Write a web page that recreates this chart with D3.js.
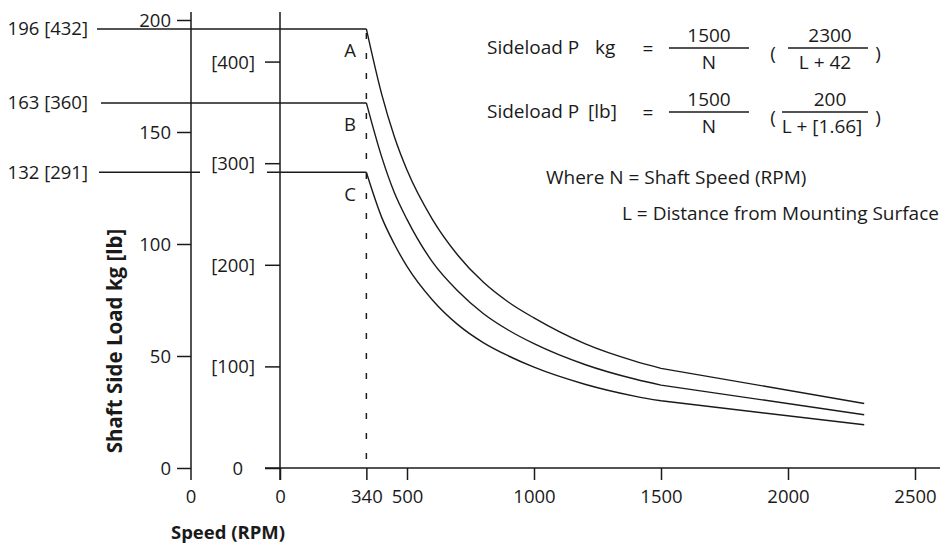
<!DOCTYPE html>
<html lang="en">
  <head>
    <meta charset="utf-8">
    <title>Shaft side load vs speed</title>
    <script type="text/javascript" src="https://cdn.jsdelivr.net/npm/d3@7"></script>
    <style>
    body {
      margin: 0;
      background: #ffffff;
    }
    #chart text {
      font-family: "Open Sans", "Noto Sans", sans-serif;
      font-size: 18.5px;
      fill: #1a1a1a;
    }
    #chart .formula {
      font-size: 19px;
    }
    #chart .title {
      font-weight: bold;
    }
    #chart .y-title {
      font-size: 20.5px;
    }
    .axis line, .axis path, .rule {
      stroke: #1a1a1a;
      stroke-width: 1.5;
    }
    .load-curve {
      fill: none;
      stroke: #1a1a1a;
      stroke-width: 1.4;
    }
    </style>
  </head>
  <body>
    <div id="chart"></div>

    <script type="text/javascript">

      // ---- data ----
      var speedTicks = [0, 340, 500, 1000, 1500, 2000, 2500];
      var kgTicks = [0, 50, 100, 150, 200];
      var lbTicks = [0, 100, 200, 300, 400];

      var curveNames = ['A', 'B', 'C'];
      var ratedKg = [196, 163, 132];
      var ratedLb = [432, 360, 291];

      // speed points along the curves (rpm); beyond 1500 the curves run straight to 2300
      var rpm = [340, 400, 450, 500, 600, 700, 800, 900, 1000, 1200, 1400, 1500];
      var loadA = [196, 167, 148, 133, 111, 95, 83, 74, 67, 55.5, 47.6, 44.5];
      var loadB = [163, 139, 123, 111, 92, 79, 69, 61.5, 55.5, 46.2, 39.6, 37];
      var loadC = [132, 112, 100, 90, 75, 64, 56, 50, 45, 37.4, 32, 30];
      var endRpm = 2300;
      var endLoad = [28.8, 23.8, 19.3];

      var kgPerLb = 0.45359;

      var dims = { w: 940, h: 546 };

      var svg = d3.select('#chart')
        .append('svg')
          .attr('width', dims.w)
          .attr('height', dims.h);

      // scales
      var x = d3.scaleLinear().domain([0, 2500]).range([280, 915]);
      var y = d3.scaleLinear().domain([0, 200]).range([468, 20]);
      var yLb = d3.scaleLinear().domain([0, 200 / kgPerLb]).range([468, 20]);

      var kgAxisX = 191;

      // kg axis (outer)
      var kgAxis = d3.axisLeft(y)
        .tickValues(kgTicks)
        .tickSize(14)
        .tickPadding(6);
      var gKg = svg.append('g')
        .attr('class', 'axis')
        .attr('transform', 'translate(' + kgAxisX + ',0)')
        .call(kgAxis);
      gKg.select('.domain').remove();
      gKg.selectAll('text').attr('dy', '0.35em');
      svg.append('line')
        .attr('class', 'rule')
        .attr('x1', kgAxisX).attr('x2', kgAxisX)
        .attr('y1', 12).attr('y2', y(0) + 12);

      // lb axis (inner)
      var lbAxis = d3.axisLeft(yLb)
        .tickValues(lbTicks)
        .tickSize(15)
        .tickPadding(10)
        .tickFormat(function(d) { return d === 0 ? '0' : '[' + d + ']'; });
      var gLb = svg.append('g')
        .attr('class', 'axis')
        .attr('transform', 'translate(' + x(0) + ',0)')
        .call(lbAxis);
      gLb.select('.domain').remove();
      gLb.selectAll('text')
        .attr('dy', '0.35em')
        .attr('x', function(d) { return d === 0 ? -37 : -25; });
      svg.append('line')
        .attr('class', 'rule')
        .attr('x1', x(0)).attr('x2', x(0))
        .attr('y1', 12).attr('y2', y(0) + 12);

      // speed axis
      var xAxis = d3.axisBottom(x)
        .tickValues(speedTicks)
        .tickSize(12)
        .tickPadding(10)
        .tickFormat(d3.format('d'));
      var gX = svg.append('g')
        .attr('class', 'axis')
        .attr('transform', 'translate(0,' + y(0) + ')')
        .call(xAxis);
      gX.select('.domain').remove();
      svg.append('line')
        .attr('class', 'rule')
        .attr('x1', x(0) - 15).attr('x2', dims.w)
        .attr('y1', y(0)).attr('y2', y(0));

      // zero under the kg axis
      svg.append('text')
        .attr('x', kgAxisX)
        .attr('y', y(0) + 22)
        .attr('dy', '0.71em')
        .attr('text-anchor', 'middle')
        .text('0');

      // dashed line at 340 rpm
      svg.append('line')
        .attr('class', 'rule')
        .attr('x1', x(340)).attr('x2', x(340))
        .attr('y1', y(ratedKg[0])).attr('y2', y(0))
        .attr('stroke-width', 1.3)
        .attr('stroke-dasharray', '6,14')
        .attr('stroke-dashoffset', -4);

      // rated load lines and labels
      var lineStart = [97, 101, 99];
      ratedKg.forEach(function(v, i) {
        if (i === 2) {
          // gap left open for the [300] label
          svg.append('line').attr('class', 'rule')
            .attr('x1', lineStart[i]).attr('x2', 200)
            .attr('y1', y(v)).attr('y2', y(v));
          svg.append('line').attr('class', 'rule')
            .attr('x1', 267).attr('x2', x(340))
            .attr('y1', y(v)).attr('y2', y(v));
        } else {
          svg.append('line').attr('class', 'rule')
            .attr('x1', lineStart[i]).attr('x2', x(340))
            .attr('y1', y(v)).attr('y2', y(v));
        }
        svg.append('text')
          .attr('x', 88)
          .attr('y', y(v))
          .attr('dy', '0.35em')
          .attr('text-anchor', 'end')
          .text(v + ' [' + ratedLb[i] + ']');
        svg.append('text')
          .attr('x', 350)
          .attr('y', y(v) + 22)
          .attr('dy', '0.35em')
          .attr('text-anchor', 'middle')
          .text(curveNames[i]);
      });

      // load curves
      var line = d3.line()
        .x(function(d) { return x(d[0]); })
        .y(function(d) { return y(d[1]); })
        .curve(d3.curveMonotoneX);

      [loadA, loadB, loadC].forEach(function(series, i) {
        var pts = rpm.map(function(r, k) { return [r, series[k]]; });
        svg.append('path')
          .attr('class', 'load-curve')
          .attr('d', line(pts) + 'L' + x(endRpm) + ',' + y(endLoad[i]));
      });

      // axis titles
      svg.append('text')
        .attr('class', 'title y-title')
        .attr('transform', 'translate(115,341) rotate(-90)')
        .attr('dy', '0.35em')
        .attr('text-anchor', 'middle')
        .text('Shaft Side Load kg [lb]');
      svg.append('text')
        .attr('class', 'title')
        .attr('x', 228)
        .attr('y', 533)
        .attr('dy', '0.35em')
        .attr('text-anchor', 'middle')
        .text('Speed (RPM)');

      // formulas
      var formulaRows = [
        { lead: 'Sideload P', unit: 'kg', unitX: 595, num2: '2300', den2: 'L + 42', lineY: 48, f2x1: 788 },
        { lead: 'Sideload P', unit: '[lb]', unitX: 588, num2: '200', den2: 'L + [1.66]', lineY: 112, f2x1: 782 }
      ];
      formulaRows.forEach(function(r) {
        var g = svg.append('g').attr('class', 'formula');
        function txt(xp, yp, s, anchor) {
          g.append('text')
            .attr('class', 'formula')
            .attr('x', xp).attr('y', yp)
            .attr('dy', '0.35em')
            .attr('text-anchor', anchor || 'middle')
            .text(s);
        }
        txt(487, r.lineY - 1, r.lead, 'start');
        txt(r.unitX, r.lineY - 1, r.unit, 'start');
        txt(648, r.lineY, '=');
        g.append('line').attr('class', 'rule').attr('stroke-width', 1.3)
          .attr('x1', 669).attr('x2', 749).attr('y1', r.lineY).attr('y2', r.lineY);
        txt(709, r.lineY - 13, '1500');
        txt(709, r.lineY + 14, 'N');
        txt(773, r.lineY + 5, '(');
        g.append('line').attr('class', 'rule').attr('stroke-width', 1.3)
          .attr('x1', r.f2x1).attr('x2', 868).attr('y1', r.lineY).attr('y2', r.lineY);
        txt(830, r.lineY - 13, r.num2);
        txt((r.f2x1 + 868) / 2 - 3, r.lineY + 14, r.den2);
        txt(878, r.lineY + 5, ')');
      });

      svg.append('text')
        .attr('class', 'formula')
        .attr('x', 546).attr('y', 177).attr('dy', '0.35em')
        .text('Where N = Shaft Speed (RPM)');
      svg.append('text')
        .attr('class', 'formula')
        .attr('x', 622).attr('y', 213).attr('dy', '0.35em')
        .text('L = Distance from Mounting Surface');

    </script>
  </body>
</html>
